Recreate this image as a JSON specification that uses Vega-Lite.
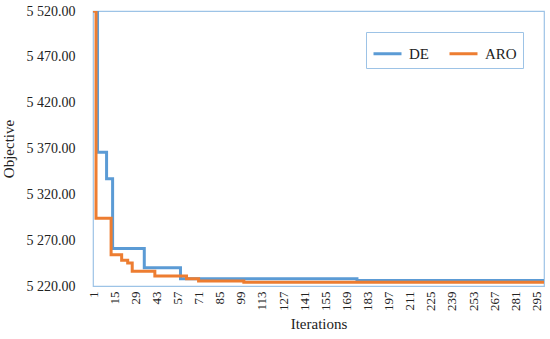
{
  "$schema": "https://vega.github.io/schema/vega-lite/v6.json",
  "width": 451,
  "height": 275,
  "autosize": {"type": "none"},
  "padding": {"left": 93, "top": 11, "right": 6, "bottom": 53},
  "background": "white",
  "config": {
    "font": "Liberation Serif",
    "view": {"stroke": "#9DC3E6", "strokeWidth": 1.2}
  },
  "data": {
    "values": [
      {"iter": 1, "series": "DE", "obj": 5520},
      {"iter": 4, "series": "DE", "obj": 5366},
      {"iter": 10, "series": "DE", "obj": 5337},
      {"iter": 14, "series": "DE", "obj": 5261},
      {"iter": 35, "series": "DE", "obj": 5240},
      {"iter": 59, "series": "DE", "obj": 5228},
      {"iter": 176, "series": "DE", "obj": 5226},
      {"iter": 300, "series": "DE", "obj": 5226},
      {"iter": 1, "series": "ARO", "obj": 5520},
      {"iter": 3, "series": "ARO", "obj": 5294},
      {"iter": 13, "series": "ARO", "obj": 5254},
      {"iter": 20, "series": "ARO", "obj": 5248},
      {"iter": 24, "series": "ARO", "obj": 5245},
      {"iter": 27, "series": "ARO", "obj": 5236},
      {"iter": 42, "series": "ARO", "obj": 5231},
      {"iter": 63, "series": "ARO", "obj": 5228},
      {"iter": 71, "series": "ARO", "obj": 5225.5},
      {"iter": 101, "series": "ARO", "obj": 5224},
      {"iter": 300, "series": "ARO", "obj": 5224}
    ]
  },
  "mark": {"type": "line", "interpolate": "step-after", "strokeWidth": 3, "clip": true},
  "encoding": {
    "x": {
      "field": "iter",
      "type": "quantitative",
      "scale": {"domain": [1, 300], "nice": false, "zero": false},
      "axis": {
        "title": "Iterations",
        "values": [1, 15, 29, 43, 57, 71, 85, 99, 113, 127, 141, 155, 169, 183, 197, 211, 225, 239, 253, 267, 281, 295],
        "labelAngle": -90,
        "labelFont": "Liberation Serif",
        "labelFontSize": 13,
        "labelColor": "#222",
        "labelPadding": 5,
        "labelFlush": false,
        "labelOverlap": false,
        "domain": false,
        "ticks": false,
        "grid": false,
        "titleFont": "Liberation Serif",
        "titleFontSize": 15,
        "titleFontWeight": "normal",
        "titleColor": "#222",
        "titlePadding": 6
      }
    },
    "y": {
      "field": "obj",
      "type": "quantitative",
      "scale": {"domain": [5220, 5520], "nice": false, "zero": false},
      "axis": {
        "title": "Objective",
        "values": [5220, 5270, 5320, 5370, 5420, 5470, 5520],
        "labelExpr": "slice(format(datum.value, '.2f'), 0, 1) + ' ' + slice(format(datum.value, '.2f'), 1)",
        "labelFont": "Liberation Serif",
        "labelFontSize": 14,
        "labelColor": "#222",
        "labelPadding": 18,
        "domain": false,
        "ticks": false,
        "grid": false,
        "titleFont": "Liberation Serif",
        "titleFontSize": 15,
        "titleFontWeight": "normal",
        "titleColor": "#222",
        "titlePadding": 10
      }
    },
    "color": {
      "field": "series",
      "type": "nominal",
      "scale": {"domain": ["DE", "ARO"], "range": ["#5B9BD5", "#ED7D31"]},
      "legend": {
        "title": null,
        "orient": "none",
        "direction": "horizontal",
        "legendX": 273,
        "legendY": 21,
        "strokeColor": "#9DC3E6",
        "fillColor": "white",
        "padding": 6,
        "symbolType": "stroke",
        "symbolSize": 784,
        "symbolStrokeWidth": 3,
        "labelFont": "Liberation Serif",
        "labelFontSize": 15,
        "labelColor": "#222",
        "labelOffset": 6,
        "columnPadding": 14
      }
    }
  }
}
